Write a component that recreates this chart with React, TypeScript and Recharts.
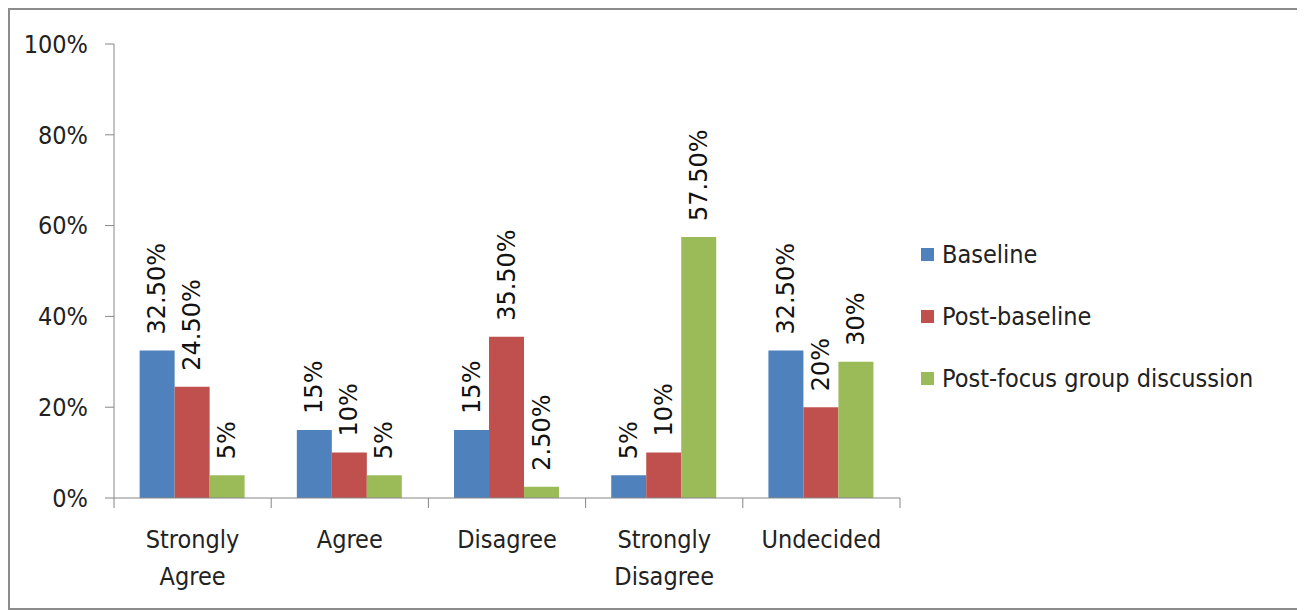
import React from "react";
import { BarChart, Bar, XAxis, YAxis, Legend, LabelList } from "recharts";

const categories = ["Strongly Agree", "Agree", "Disagree", "Strongly Disagree", "Undecided"];
const baseline = [32.5, 15, 15, 5, 32.5];
const postBaseline = [24.5, 10, 35.5, 10, 20];
const postFocus = [5, 5, 2.5, 57.5, 30];
const yTicks = [0, 20, 40, 60, 80, 100];

const series = [
  { key: "baseline", name: "Baseline", color: "#4F81BD" },
  { key: "postBaseline", name: "Post-baseline", color: "#C0504D" },
  { key: "postFocus", name: "Post-focus group discussion", color: "#9BBB59" },
];

const data = categories.map((c, i) => ({
  category: c,
  baseline: baseline[i],
  postBaseline: postBaseline[i],
  postFocus: postFocus[i],
}));

const W = 1288;
const H = 598;
const margin = { top: 34, right: 398, left: 0, bottom: 50 };
const yAxisWidth = 104;
const xAxisHeight = 60;
const plotWidth = W - margin.left - margin.right - yAxisWidth;
const band = plotWidth / categories.length;
const axisColor = "#868686";
const tickFont = "'Liberation Sans Narrow', 'DejaVu Sans Condensed', sans-serif";
const tickSize = 25;

const fmt = (v: number) => (Number.isInteger(v) ? `${v}%` : `${v.toFixed(2)}%`);

const XTick = (props: any) => {
  const { x, y, payload, index } = props;
  const words = String(payload.value).split(" ");
  const lines = words.length > 1 ? [words[0], words.slice(1).join(" ")] : words;
  return (
    <g>
      <line x1={x - band / 2} x2={x - band / 2} y1={y} y2={y + 10} stroke={axisColor} />
      {index === categories.length - 1 && (
        <line x1={x + band / 2} x2={x + band / 2} y1={y} y2={y + 10} stroke={axisColor} />
      )}
      {lines.map((l, i) => (
        <text
          key={i}
          x={x}
          y={y + 50 + i * 37}
          textAnchor="middle"
          fontFamily={tickFont}
          fontSize={tickSize}
          fill="#222"
        >
          {l}
        </text>
      ))}
    </g>
  );
};

const BarLabel = (props: any) => {
  const { x, y, width, value } = props;
  const cx = x + width / 2;
  const ty = y - 16;
  return (
    <text
      x={cx}
      y={ty}
      transform={`rotate(-90, ${cx}, ${ty})`}
      textAnchor="start"
      dominantBaseline="central"
      fontFamily="'DejaVu Sans', sans-serif"
      fontSize={24}
      fill="#111"
    >
      {fmt(value)}
    </text>
  );
};

const LegendContent = () => (
  <div style={{ fontFamily: tickFont, fontSize: tickSize, color: "#222" }}>
    {series.map((s) => (
      <div key={s.key} style={{ height: 62, display: "flex", alignItems: "center" }}>
        <span
          style={{ width: 13, height: 13, background: s.color, display: "inline-block", marginRight: 8 }}
        />
        <span>{s.name}</span>
      </div>
    ))}
  </div>
);

export default function App() {
  return (
    <div
      style={{
        width: W,
        height: H,
        border: "2px solid #8c8c8c",
        background: "#fff",
        position: "relative",
      }}
    >
      <BarChart
        width={W}
        height={H}
        data={data}
        margin={margin}
        barCategoryGap="16.3%"
        barGap={0}
      >
        <XAxis
          dataKey="category"
          height={xAxisHeight}
          stroke={axisColor}
          tickLine={false}
          tickSize={0}
          tickMargin={0}
          interval={0}
          tick={<XTick />}
        />
        <YAxis
          width={yAxisWidth}
          domain={[0, 100]}
          ticks={yTicks}
          tickFormatter={(v) => `${v}%`}
          stroke={axisColor}
          tickSize={9}
          tickMargin={17}
          tick={{ fontFamily: tickFont, fontSize: tickSize, fill: "#222" }}
          interval={0}
        />
        <Legend
          layout="vertical"
          align="center"
          verticalAlign="middle"
          content={<LegendContent />}
          wrapperStyle={{ position: "absolute", left: 911, top: 213, width: 380 }}
        />
        {series.map((s) => (
          <Bar key={s.key} dataKey={s.key} name={s.name} fill={s.color} isAnimationActive={false}>
            <LabelList dataKey={s.key} content={<BarLabel />} />
          </Bar>
        ))}
      </BarChart>
    </div>
  );
}
